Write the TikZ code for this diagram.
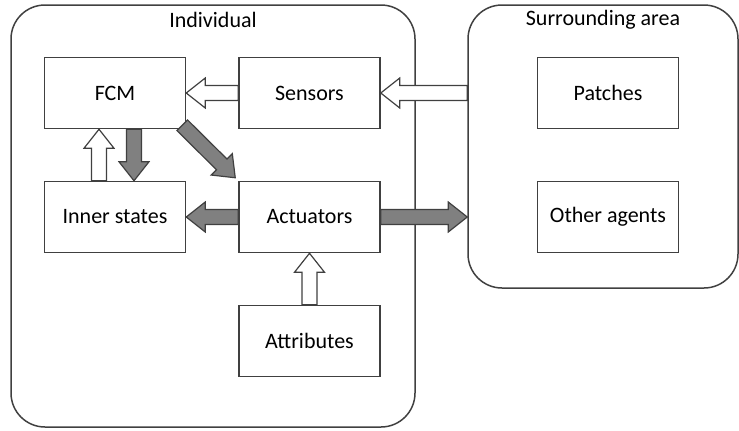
\documentclass[tikz,border=0pt]{standalone}
\usepackage{fontspec}
\setmainfont{Carlito}
\usetikzlibrary{calc}

% block arrow: fill colour, tail coordinate, tip coordinate
\newcommand{\blockarrow}[3]{%
  \coordinate (hb) at ($(#3)!9.5pt!(#2)$);
  \draw[line width=0.6pt, draw=black!75, fill=#1]
    ($(#2)!3.75pt!90:(#3)$) -- ($(hb)!3.75pt!90:(#3)$) -- ($(hb)!7.5pt!90:(#3)$) -- (#3)
    -- ($(hb)!7.5pt!-90:(#3)$) -- ($(hb)!3.75pt!-90:(#3)$) -- ($(#2)!3.75pt!-90:(#3)$) -- cycle;
}

\begin{document}
\begin{tikzpicture}[x=0.5pt, y=-0.5pt, font=\fontsize{11}{13}\selectfont,
  box/.style={draw=black!75, line width=0.75pt, fill=white, inner sep=0pt,
              minimum width=70.5pt, minimum height=35.5pt},
  area/.style={draw=black!75, line width=0.75pt, rounded corners=17pt, inner sep=0pt}]

  \useasboundingbox (0,0) rectangle (739,430);

  % Container boundaries
  \node[area, minimum width=202pt, minimum height=211pt] (ind) at (213,216) {};
  \node[area, minimum width=135pt, minimum height=141.5pt] (surr) at (603,146.5) {};
  \node (indlabel) at (213,20) {Individual};
  \node (surrlabel) at (603,20) {Surrounding area};

  % Individual components
  \node[box] (fcm)   at (115,93)    {FCM};
  \node[box] (sens)  at (309.5,93)  {Sensors};
  \node[box] (inner) at (115,217)   {Inner states};
  \node[box] (act)   at (309.5,217) {Actuators};
  \node[box] (attr)  at (309.5,341) {Attributes};

  % Environment components
  \node[box] (patch) at (608,93)  {Patches};
  \node[box] (other) at (608,217) {Other agents};

  % Connection points
  \coordinate (sens-in)  at (surr.west |- sens.east);
  \coordinate (act-out)  at (surr.west |- act.east);
  \coordinate (up-tail)  at ($(inner.north)+(-16,0)$);
  \coordinate (up-tip)   at ($(fcm.south)+(-16,0)$);
  \coordinate (dn-tail)  at ($(fcm.south)+(19,0)$);
  \coordinate (dn-tip)   at ($(inner.north)+(19,0)$);
  \coordinate (diag-tail) at ($(fcm.south east)+(-4,-4)$);
  \coordinate (diag-tip)  at ($(act.north west)+(-3,-3)$);

  % Information flow
  \blockarrow{white}{sens-in}{sens.east}
  \blockarrow{white}{sens.west}{fcm.east}
  \blockarrow{white}{up-tail}{up-tip}
  \blockarrow{black!50}{dn-tail}{dn-tip}
  \blockarrow{black!50}{diag-tail}{diag-tip}
  \blockarrow{black!50}{act.west}{inner.east}
  \blockarrow{black!50}{act.east}{act-out}
  \blockarrow{white}{attr.north}{act.south}

\end{tikzpicture}
\end{document}
